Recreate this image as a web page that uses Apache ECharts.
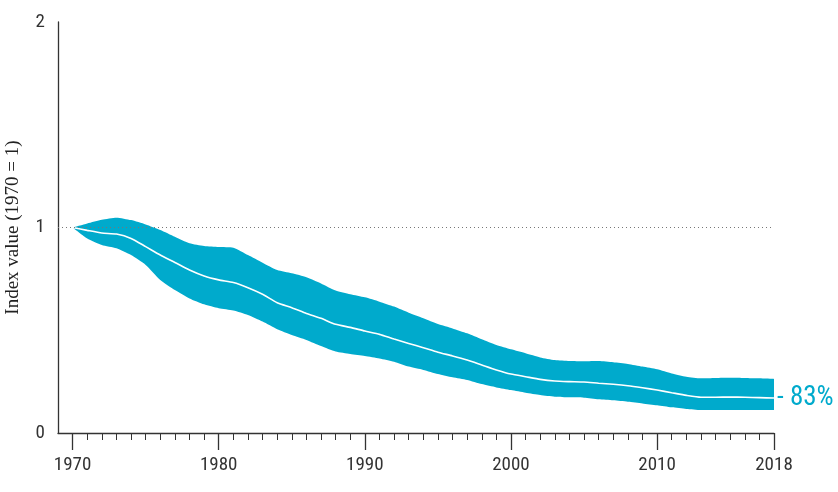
<!DOCTYPE html>
<html><head><meta charset="utf-8">
<script src="https://cdn.jsdelivr.net/npm/echarts@6/dist/echarts.min.js"></script>
<style>html,body{margin:0;padding:0;background:#fff}#c{width:838px;height:492px}</style>
</head><body><div id="c"></div>
<script>
var years = [];
for (var y = 1969; y <= 2018; y++) years.push(String(y));
var center = [1.0,0.986,0.973,0.968,0.947,0.907,0.866,0.83,0.793,0.764,
  0.745,0.732,0.707,0.675,0.634,0.61,0.582,0.558,0.529,0.514,
  0.496,0.48,0.457,0.436,0.415,0.393,0.375,0.355,0.331,0.307,
  0.287,0.274,0.261,0.253,0.25,0.248,0.242,0.237,0.23,0.22,
  0.209,0.196,0.183,0.174,0.174,0.175,0.174,0.172,0.17];
var upper = [1.0,1.02,1.038,1.048,1.036,1.015,0.988,0.955,0.923,0.91,
  0.905,0.902,0.866,0.829,0.793,0.777,0.758,0.728,0.693,0.675,
  0.66,0.639,0.615,0.585,0.558,0.53,0.509,0.485,0.456,0.428,
  0.407,0.388,0.368,0.355,0.35,0.349,0.35,0.344,0.336,0.323,
  0.31,0.29,0.274,0.266,0.268,0.269,0.268,0.266,0.263];
var lower = [1.0,0.947,0.915,0.899,0.866,0.818,0.745,0.696,0.655,0.626,
  0.607,0.596,0.574,0.542,0.505,0.477,0.453,0.423,0.396,0.384,
  0.375,0.363,0.347,0.323,0.307,0.287,0.271,0.258,0.238,0.222,
  0.209,0.196,0.185,0.177,0.174,0.172,0.164,0.159,0.152,0.144,
  0.135,0.125,0.117,0.112,0.112,0.112,0.112,0.112,0.112];
var endText = '- 83%';
var yTickLabels = [0, 1, 2];

var pad = function (arr) { return ['-'].concat(arr); };
var lowerD = pad(lower);
var diffD = pad(upper.map(function (u, i) { return +(u - lower[i]).toFixed(4); }));
var centerD = pad(center);

var BLUE = '#00aacc';
var FONT = "'Roboto Condensed', 'Liberation Sans Narrow', 'Arial Narrow', Roboto, sans-serif";
var isMajor = function (i, v) { var n = +v; return n >= 1970 && (n % 10 === 0 || n === 2018); };

var chart = echarts.init(document.getElementById('c'));
chart.setOption({
  animation: false,
  grid: { left: 58, right: 64, top: 22, bottom: 59, containLabel: false, outerBoundsMode: 'none' },
  xAxis: [{
    type: 'category', data: years, boundaryGap: false,
    axisLine: { lineStyle: { color: '#333', width: 1.3 } },
    axisTick: { interval: isMajor, length: 17, lineStyle: { color: '#333', width: 1.3 } },
    axisLabel: { interval: isMajor, color: '#333', fontFamily: FONT, fontSize: 19, margin: 23 }
  }, {
    type: 'category', data: years, boundaryGap: false, position: 'bottom',
    axisLine: { show: false },
    axisTick: { interval: function (i, v) { return +v >= 1970; }, length: 7, lineStyle: { color: '#333', width: 1 } },
    axisLabel: { show: false }
  }],
  yAxis: {
    type: 'value', min: 0, max: 2, interval: 0.1,
    name: 'Index value (1970 = 1)', nameLocation: 'middle', nameGap: 35,
    nameTextStyle: { fontFamily: "'Liberation Serif', 'DejaVu Serif', serif", fontSize: 19, color: '#222' },
    splitLine: { show: false },
    axisLine: { show: true, lineStyle: { color: '#333', width: 1.3 } },
    axisTick: { length: 9, lineStyle: { color: '#555', width: 1 } },
    axisLabel: {
      color: '#333', fontFamily: FONT, fontSize: 19, margin: 13,
      formatter: function (v) {
        var r = Math.round(v * 10) / 10;
        return yTickLabels.indexOf(r) >= 0 ? String(r) : '';
      }
    }
  },
  series: [{
    type: 'line', data: lowerD, stack: 'band', symbol: 'none', smooth: 0.2,
    lineStyle: { opacity: 0 }, silent: true, z: 2,
    markLine: {
      silent: true, symbol: 'none', label: { show: false },
      lineStyle: { type: [1, 3], color: '#777', width: 1 },
      data: [{ yAxis: 1 }]
    }
  }, {
    type: 'line', data: diffD, stack: 'band', symbol: 'none', smooth: 0.2,
    lineStyle: { opacity: 0 }, areaStyle: { color: BLUE, opacity: 1 }, silent: true, z: 3
  }, {
    type: 'line', data: centerD, symbol: 'none', smooth: 0.2, z: 4,
    lineStyle: { color: '#fff', width: 1.6 },
    endLabel: { show: true, formatter: endText, color: BLUE, fontFamily: FONT, fontSize: 27, distance: 3 }
  }]
});
</script></body></html>
